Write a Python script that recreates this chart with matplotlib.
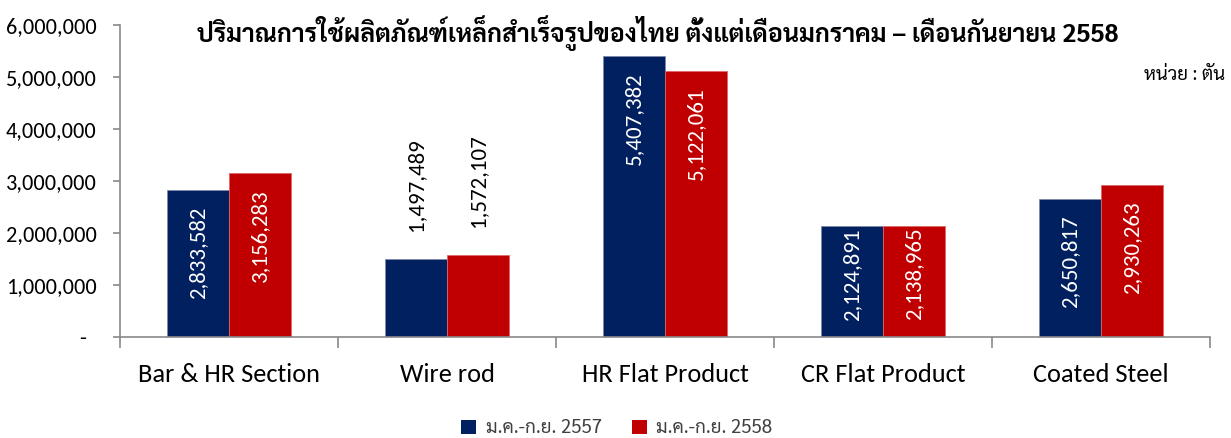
import matplotlib
matplotlib.use('Agg')
import matplotlib.pyplot as plt
import numpy as np
from matplotlib import font_manager
from matplotlib.patches import Patch
from matplotlib.ticker import FuncFormatter

categories = ['Bar & HR Section', 'Wire rod', 'HR Flat Product', 'CR Flat Product', 'Coated Steel']
y2557 = [2833582, 1497489, 5407382, 2124891, 2650817]
y2558 = [3156283, 1572107, 5122061, 2138965, 2930263]
series_names = ['ม.ค.-ก.ย. 2557', 'ม.ค.-ก.ย. 2558']
title = 'ปริมาณการใช้ผลิตภัณฑ์เหล็กสำเร็จรูปของไทย ตั้งแต่เดือนมกราคม – เดือนกันยายน 2558'
unit = 'หน่วย : ตัน'

have = {f.name for f in font_manager.fontManager.ttflist}
def pick(*names):
    return [n for n in names if n in have] + ['DejaVu Sans']

latin = pick('Carlito', 'Lato', 'Open Sans')
thai = pick('Sarabun', 'Noto Sans Thai', 'IBM Plex Sans Thai')
plt.rcParams['font.family'] = latin

blue = '#002060'
red = '#C00000'
grey = '#898989'

fig = plt.figure(figsize=(12.31, 4.38), dpi=100)
ax = fig.add_axes([0.0975, 0.2306, 0.8855, 0.7124])

x = np.arange(len(categories))
w = 0.285
b1 = ax.bar(x - w/2, y2557, w, color=blue, edgecolor='#7f8aa8', linewidth=0.6)
b2 = ax.bar(x + w/2, y2558, w, color=red, edgecolor='#e06666', linewidth=0.6)

for bars, vals in ((b1, y2557), (b2, y2558)):
    for bar, v in zip(bars, vals):
        cx = bar.get_x() + bar.get_width() / 2
        txt = f'{v:,}'
        if v < 1800000:
            ax.annotate(txt, (cx, v), xytext=(0, 20), textcoords='offset points',
                        rotation=90, ha='center', va='bottom', fontsize=16.5, color='black')
        else:
            off = -1.5 if v < 2300000 else -12
            ax.annotate(txt, (cx, v), xytext=(0, off), textcoords='offset points',
                        rotation=90, ha='center', va='top', fontsize=16.5, color='white')

ax.set_xlim(-0.5, len(categories) - 0.5)
ax.set_ylim(0, 6000000)
ax.set_yticks(np.arange(0, 6000001, 1000000))
ax.yaxis.set_major_formatter(FuncFormatter(lambda v, p: '-  ' if v == 0 else f'{v:,.0f}'))
ax.set_xticks(x)
ax.set_xticklabels(categories, fontsize=19)
ax.set_xticks(np.arange(-0.5, len(categories)), minor=True)
ax.tick_params(axis='x', which='major', length=0, pad=19)
ax.tick_params(axis='x', which='minor', length=8, width=1.2, color=grey)
ax.tick_params(axis='y', length=5, width=1.2, color=grey, labelsize=16, pad=12)

for s in ('top', 'right'):
    ax.spines[s].set_visible(False)
for s in ('left', 'bottom'):
    ax.spines[s].set_color(grey)
    ax.spines[s].set_linewidth(1.2)

fig.text(0.534, 0.925, title, ha='center', va='center', fontsize=18,
         fontweight='bold', family=thai)
fig.text(0.995, 0.828, unit, ha='right', va='center', fontsize=13.5, family=thai)

handles = [Patch(facecolor=blue), Patch(facecolor=red)]
leg = fig.legend(handles, series_names, loc='center', bbox_to_anchor=(0.501, 0.022),
                 ncol=2, frameon=False, prop={'family': thai, 'size': 13.5},
                 handlelength=0.8, handleheight=0.8, columnspacing=1.6, handletextpad=0.5)
for t in leg.get_texts():
    t.set_color('#404040')

fig.savefig('out.png')
